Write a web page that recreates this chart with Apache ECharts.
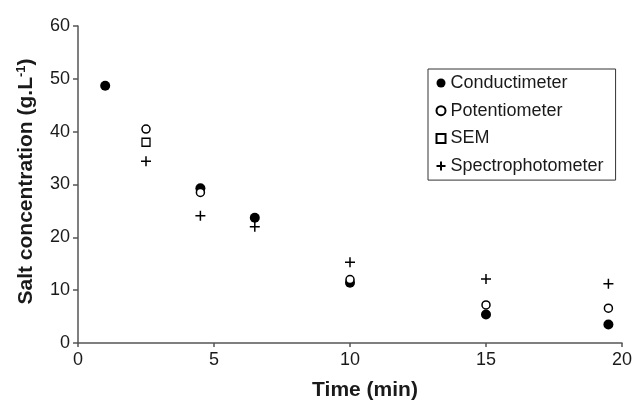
<!DOCTYPE html>
<html>
<head>
<meta charset="utf-8">
<script src="https://cdn.jsdelivr.net/npm/echarts@6/dist/echarts.min.js"></script>
<style>
  html, body { margin: 0; padding: 0; background: #fff; }
  #chart { width: 635px; height: 401px; }
</style>
</head>
<body>
<div id="chart"></div>
<script>
// Salt concentration measured over time by four methods
const conductTime = [1, 4.5, 6.5, 10, 15, 19.5];
const conductValues = [48.7, 29.3, 23.7, 11.4, 5.4, 3.5];

const potentTime = [2.5, 4.5, 10, 15, 19.5];
const potentValues = [40.5, 28.5, 12.0, 7.2, 6.6];

const semTime = [2.5];
const semValues = [38.0];

const spectroTime = [2.5, 4.5, 6.5, 10, 15, 19.5];
const spectroValues = [34.4, 24.1, 22.0, 15.3, 12.1, 11.2];

const xTicks = [0, 5, 10, 15, 20];
const yTicks = [0, 10, 20, 30, 40, 50, 60];

const pair = (xs, ys) => xs.map((x, i) => [x, ys[i]]);

const FONT = '"Liberation Sans", Arial, Helvetica, sans-serif';
const INK = '#1a1a1a';
const AXIS = '#555';
const PLUS = 'path://M0,5L10,5M5,0L5,10';

const chart = echarts.init(document.getElementById('chart'), null, { renderer: 'canvas' });

chart.setOption({
  animation: false,
  backgroundColor: '#fff',
  textStyle: { fontFamily: FONT, color: INK },
  grid: { left: 78, right: 13, top: 26, bottom: 58, containLabel: false, outerBoundsMode: 'none' },
  legend: {
    orient: 'vertical',
    left: 428,
    top: 69,
    padding: [4, 12, 4, 6],
    itemWidth: 9,
    itemHeight: 9,
    itemGap: 7.7,
    borderColor: '#333',
    borderWidth: 1,
    backgroundColor: '#fff',
    textStyle: { fontFamily: FONT, fontSize: 18, color: INK, lineHeight: 20 },
    data: ['Conductimeter', 'Potentiometer', 'SEM', 'Spectrophotometer']
  },
  xAxis: {
    type: 'value',
    min: xTicks[0],
    max: xTicks[xTicks.length - 1],
    interval: 5,
    name: 'Time (min)',
    nameLocation: 'middle',
    nameGap: 37,
    nameTextStyle: {
      fontFamily: FONT, fontSize: 21, fontWeight: 'bold', color: INK,
      padding: [0, 0, 0, 30]
    },
    axisLine: { show: true, lineStyle: { color: AXIS, width: 1.5 } },
    axisTick: { show: true, inside: false, length: 4, lineStyle: { color: AXIS, width: 1.5 } },
    axisLabel: { fontFamily: FONT, fontSize: 18, color: INK, margin: 8 },
    splitLine: { show: false }
  },
  yAxis: {
    type: 'value',
    min: yTicks[0],
    max: yTicks[yTicks.length - 1],
    interval: 10,
    name: 'Salt concentration (g.L{sup|-1})',
    nameLocation: 'middle',
    nameRotate: 90,
    nameGap: 41,
    nameTextStyle: {
      fontFamily: FONT, fontSize: 21, fontWeight: 'bold', color: INK,
      padding: [0, 0, 0, 6],
      rich: {
        sup: { fontFamily: FONT, fontSize: 13, fontWeight: 'bold', color: INK, verticalAlign: 'top', padding: [0, 0, 9, 0] }
      }
    },
    axisLine: { show: true, lineStyle: { color: AXIS, width: 1.5 } },
    axisTick: { show: true, inside: false, length: 5, lineStyle: { color: AXIS, width: 1.5 } },
    axisLabel: { fontFamily: FONT, fontSize: 18, color: INK, margin: 8 },
    splitLine: { show: false }
  },
  series: [
    {
      name: 'Conductimeter',
      type: 'scatter',
      symbol: 'circle',
      symbolSize: 10,
      itemStyle: { color: '#000', borderColor: '#000', borderWidth: 0, opacity: 1 },
      data: pair(conductTime, conductValues)
    },
    {
      name: 'Potentiometer',
      type: 'scatter',
      symbol: 'circle',
      symbolSize: 8,
      itemStyle: { color: '#fff', borderColor: '#000', borderWidth: 1.5, opacity: 1 },
      data: pair(potentTime, potentValues)
    },
    {
      name: 'SEM',
      type: 'scatter',
      symbol: 'rect',
      symbolSize: 8,
      itemStyle: { color: '#fff', borderColor: '#000', borderWidth: 1.3, opacity: 1 },
      data: pair(semTime, semValues)
    },
    {
      name: 'Spectrophotometer',
      type: 'scatter',
      symbol: PLUS,
      symbolSize: 10,
      itemStyle: { color: 'none', borderColor: '#000', borderWidth: 1.5, opacity: 1 },
      data: pair(spectroTime, spectroValues)
    }
  ]
});
</script>
</body>
</html>
